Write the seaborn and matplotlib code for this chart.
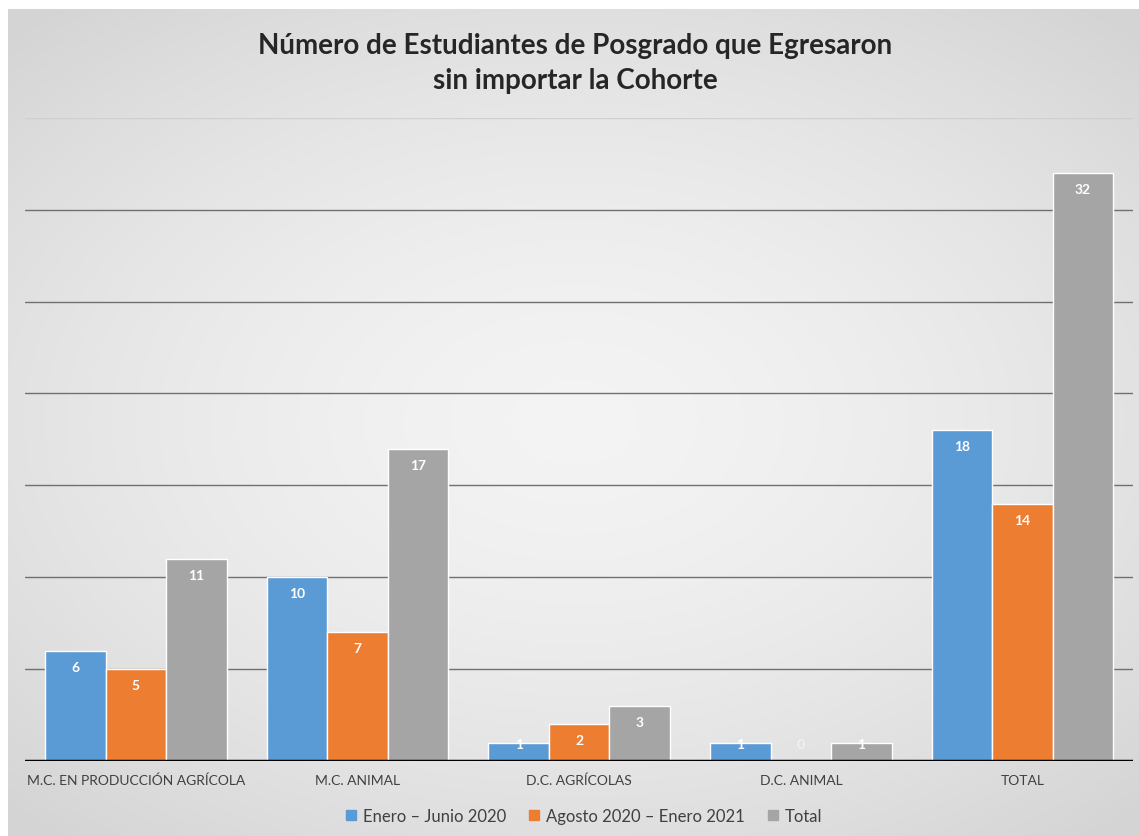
import numpy as np
import pandas as pd
import matplotlib
matplotlib.use("Agg")
import matplotlib.pyplot as plt
import seaborn as sns

categories = ["M.C. EN PRODUCCIÓN AGRÍCOLA", "M.C. ANIMAL", "D.C. AGRÍCOLAS", "D.C. ANIMAL", "TOTAL"]
series_names = ["Enero – Junio 2020", "Agosto 2020 – Enero 2021", "Total"]
enero_junio = [6, 10, 1, 1, 18]
agosto_enero = [5, 7, 2, 0, 14]
total = [11, 17, 3, 1, 32]
colors = ["#5b9bd5", "#ed7d31", "#a5a5a5"]
title = "Número de Estudiantes de Posgrado que Egresaron\nsin importar la Cohorte"

df = pd.DataFrame({
    "cat": categories * 3,
    "serie": [series_names[0]] * 5 + [series_names[1]] * 5 + [series_names[2]] * 5,
    "val": enero_junio + agosto_enero + total,
})

sns.set_theme(style="white")
plt.rcParams["font.family"] = ["Lato", "DejaVu Sans"]

fig = plt.figure(figsize=(11.39, 8.37), dpi=100)
fig.patch.set_facecolor("white")

# background gradient panel
bg = fig.add_axes([0.007, 0.0, 0.993, 0.988], zorder=-10)
yy, xx = np.mgrid[-1:1:300j, -1:1:300j]
r = np.sqrt((xx * 0.9) ** 2 + (yy * 1.0) ** 2)
vals = 0.955 - 0.08 * np.clip(r, 0, 1.3) ** 1.6
bg.imshow(np.dstack([vals, vals, vals]), aspect="auto", extent=[0, 1, 0, 1])
bg.set_axis_off()

ax = fig.add_axes([0.022, 0.0896, 0.973, 0.7684])
ax.set_facecolor("none")
sns.barplot(data=df, x="cat", y="val", hue="serie", palette=colors, width=0.82,
            gap=0, saturation=1, edgecolor="white", linewidth=1.0, ax=ax, zorder=3)
ax.set_xlim(-0.5, 4.5)
ax.set_ylim(0, 35)
ax.set_yticks([])
ax.set_xlabel("")
ax.set_ylabel("")
for v in range(5, 36, 5):
    ax.axhline(v, color="#707070" if v < 35 else "#cfcfcf", lw=1.0, zorder=1)
ax.axhline(0, color="black", lw=2.5, zorder=4)
for s in ax.spines.values():
    s.set_visible(False)
ax.tick_params(axis="x", length=0, pad=9, labelsize=10, labelcolor="#404040")

for cont in ax.containers:
    for bar in cont:
        h = bar.get_height()
        if np.isnan(h):
            continue
        y = max(h - 0.87, 0.9)
        ax.text(bar.get_x() + bar.get_width() / 2, y, f"{int(h)}", ha="center", va="center",
                color="white" if h > 0 else "#f0f0f0", fontsize=10, fontweight="bold", zorder=5)

ax.legend_.remove()
handles = [plt.Rectangle((0, 0), 1, 1, color=c) for c in colors]
fig.legend(handles, series_names, loc="center", bbox_to_anchor=(0.513, 0.024), ncol=3,
           frameon=False, fontsize=12, handlelength=0.6, handleheight=0.6,
           handletextpad=0.4, columnspacing=1.4, labelcolor="#404040")

fig.text(0.505, 0.924, title, ha="center", va="center", fontsize=20, fontweight="bold",
         color="#262626", linespacing=1.4)

fig.savefig("out.png", dpi=100)
